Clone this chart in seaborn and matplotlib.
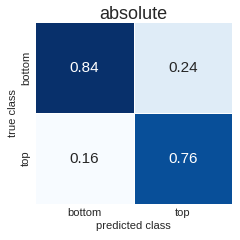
import matplotlib
matplotlib.use("Agg")
import matplotlib.pyplot as plt
import seaborn as sns
import pandas as pd

classes = ["bottom", "top"]
row_bottom = [0.84, 0.24]
row_top = [0.16, 0.76]

cm = pd.DataFrame([row_bottom, row_top], index=classes, columns=classes)

sns.set_theme(style="white")
plt.rcParams['font.family'] = ['Liberation Sans', 'DejaVu Sans']

fig = plt.figure(figsize=(2.4, 2.4), dpi=100)
ax = fig.add_axes([0.146, 0.15, 0.821, 0.758])
sns.heatmap(cm, annot=True, fmt=".2f", cmap="Blues", cbar=False, ax=ax,
            linewidths=0.5, linecolor="white", annot_kws={"fontsize": 11})
ax.set_title("absolute", fontsize=13, pad=2)
ax.set_xlabel("predicted class", fontsize=8, labelpad=2)
ax.set_ylabel("true class", fontsize=8, labelpad=2)
ax.tick_params(axis="both", labelsize=8, length=0, pad=3)
plt.setp(ax.get_yticklabels(), rotation=90, va="center")
fig.savefig("out.png", dpi=100)
